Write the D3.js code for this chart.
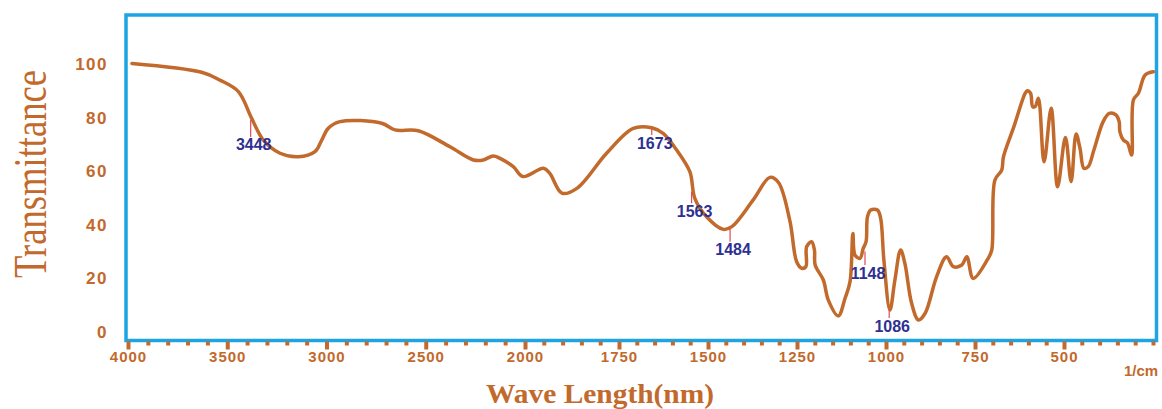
<!DOCTYPE html>
<html>
<head>
<meta charset="utf-8">
<script src="https://cdn.jsdelivr.net/npm/d3@7"></script>
<style>
  body { margin: 0; background: #fff; }
  svg { display: block; }
</style>
</head>
<body>
<div id="chart"></div>
<script>
// spectrum (wavenumber in 1/cm, transmittance %)
const wavenumber = [
  3980, 3629, 3537, 3444, 3377, 3318, 3234, 3142, 3058, 3024, 2991, 2932,
  2722, 2655, 2538, 2378, 2260, 2210, 2160, 2126, 2059, 2010, 1951, 1934,
  1902, 1862, 1783, 1710, 1658, 1626, 1588, 1551, 1537, 1504, 1457, 1433,
  1373, 1326, 1302, 1270, 1251, 1237, 1225, 1223, 1209, 1201, 1199, 1176,
  1162, 1134, 1115, 1101, 1093, 1087, 1073, 1064, 1056, 1052, 1043, 1024,
  1015, 1006, 989, 975, 959, 947, 928, 909, 890, 858, 830, 811,
  787, 773, 755, 713, 703, 694, 675, 670, 640, 609, 603, 594,
  588, 581, 572, 556, 536, 518, 496, 480, 466, 455, 444, 432,
  416, 390, 373, 354, 345, 343, 333, 322, 310, 305, 291, 272, 249
];
const transmittance = [
  100.2, 96.9, 94.0, 89.7, 79.7, 71.6, 66.7, 65.4, 67.3, 71.6, 76.0, 78.5,
  77.9, 75.4, 75.1, 69.1, 64.2, 64.2, 65.7, 64.8, 61.7, 58.0, 61.1, 59.2,
  51.8, 53.6, 66.7, 76.0, 76.2, 74.1, 67.9, 59.8, 49.9, 43.0, 38.3, 39.3,
  49.3, 57.7, 55.8, 41.5, 26.2, 23.8, 24.4, 31.8, 33.7, 30.6, 25.0, 19.4,
  11.9, 6.0, 12.6, 18.8, 36.8, 28.7, 27.5, 31.2, 33.7, 43.0, 45.5, 45.5,
  42.4, 26.9, 8.2, 19.4, 30.6, 25.6, 10.7, 4.5, 7.0, 20.6, 28.1, 24.4,
  25.0, 28.1, 20.0, 27.5, 30.6, 56.7, 60.4, 65.4, 76.9, 89.1, 90.0, 89.1,
  84.1, 84.1, 87.2, 63.5, 83.5, 54.2, 72.6, 56.1, 73.9, 68.5, 61.1, 61.7,
  67.9, 78.5, 81.6, 81.0, 78.5, 74.7, 71.6, 70.6, 66.0, 86.6, 89.1, 95.9, 97.1
];

// peak markers: label, where the marker stands, top and bottom of the red tick
const peakLabels = ["3448", "1673", "1563", "1484", "1148", "1086"];
const peakWave = [3382, 1658, 1546, 1438, 1059, 991];
const peakTop = [79.1, 75.8, 52.4, 38.7, 30.0, 8.2];
const peakBottom = [72.8, 73.5, 48.0, 33.7, 25.0, 5.2];

const majorTicks = [4000, 3500, 3000, 2500, 2000, 1750, 1500, 1250, 1000, 750, 500];
const minorTicks = d3.range(4000, 2000, -100)
  .concat(d3.range(2000, 249, -50))
  .filter(d => !majorTicks.includes(d));
const yTicks = [0, 20, 40, 60, 80, 100];

const brown = "#c2692c";
const blue = "#1da5e3";
const navy = "#2e3092";

const width = 1162, height = 409;

const svg = d3.select("#chart").append("svg")
  .attr("width", width)
  .attr("height", height);

svg.append("rect").attr("width", width).attr("height", height).attr("fill", "#fff");

// spectrometer style axis: expanded below 2000
const x = d3.scaleLinear()
  .domain([4000, 2000, 1750, 500, 250])
  .range([128, 525, 619, 1064, 1153]);

const y = d3.scaleLinear().domain([0, 100]).range([332, 64]);

// frame
svg.append("rect")
  .attr("x", 126).attr("y", 15)
  .attr("width", 1030.5).attr("height", 325.5)
  .attr("fill", "none")
  .attr("stroke", blue)
  .attr("stroke-width", 3.5);

// minor ticks
const minorAxis = svg.append("g")
  .attr("transform", "translate(0,341.5)")
  .call(d3.axisBottom(x).tickValues(minorTicks).tickSize(4).tickFormat(""));
minorAxis.select(".domain").remove();
minorAxis.selectAll(".tick line").attr("stroke", brown).attr("stroke-width", 4);

// major ticks + labels
const xAxis = svg.append("g")
  .attr("transform", "translate(0,341.5)")
  .call(d3.axisBottom(x).tickValues(majorTicks).tickSize(8).tickPadding(1.5).tickFormat(d3.format("d")));
xAxis.select(".domain").remove();
xAxis.selectAll(".tick line").attr("stroke", brown).attr("stroke-width", 4);
xAxis.selectAll(".tick text")
  .attr("fill", brown)
  .style("font-family", "'Liberation Sans', Arial, sans-serif")
  .style("font-weight", "bold")
  .style("font-size", "15px")
  .style("letter-spacing", "1px");

svg.append("text")
  .attr("x", 1141).attr("y", 376)
  .attr("text-anchor", "middle")
  .attr("fill", brown)
  .style("font-family", "'Liberation Sans', Arial, sans-serif")
  .style("font-weight", "bold")
  .style("font-size", "15px")
  .text("1/cm");

// y labels
const yAxis = svg.append("g")
  .attr("transform", "translate(110,0)")
  .call(d3.axisLeft(y).tickValues(yTicks).tickSize(0).tickPadding(2));
yAxis.select(".domain").remove();
yAxis.selectAll(".tick text")
  .attr("fill", brown)
  .style("font-family", "'Liberation Sans', Arial, sans-serif")
  .style("font-weight", "bold")
  .style("font-size", "17px")
  .style("letter-spacing", "1.5px");

// axis titles
svg.append("text")
  .attr("transform", "translate(46,174) rotate(-90)")
  .attr("text-anchor", "middle")
  .attr("fill", brown)
  .attr("textLength", 208)
  .attr("lengthAdjust", "spacingAndGlyphs")
  .style("font-family", "'Liberation Serif', 'Times New Roman', serif")
  .style("font-size", "47px")
  .text("Transmittance");

svg.append("text")
  .attr("x", 600).attr("y", 403)
  .attr("text-anchor", "middle")
  .attr("fill", brown)
  .attr("textLength", 228)
  .attr("lengthAdjust", "spacingAndGlyphs")
  .style("font-family", "'Liberation Serif', 'Times New Roman', serif")
  .style("font-weight", "bold")
  .style("font-size", "28px")
  .text("Wave Length(nm)");

// spectrum
const points = wavenumber.map((w, i) => [w, transmittance[i]]);
const line = d3.line()
  .x(d => x(d[0]))
  .y(d => y(d[1]))
  .curve(d3.curveCatmullRom.alpha(0.5));

svg.append("path")
  .datum(points)
  .attr("d", line)
  .attr("fill", "none")
  .attr("stroke", brown)
  .attr("stroke-width", 3.5)
  .attr("stroke-linejoin", "round")
  .attr("stroke-linecap", "round");

// peak markers
const peaks = peakLabels.map((label, i) => ({
  label, w: peakWave[i], top: peakTop[i], bottom: peakBottom[i]
}));

const pk = svg.append("g").selectAll("g").data(peaks).join("g");

pk.append("line")
  .attr("x1", d => x(d.w)).attr("x2", d => x(d.w))
  .attr("y1", d => y(d.top)).attr("y2", d => y(d.bottom))
  .attr("stroke", "#e04a5a")
  .attr("stroke-width", 1.2);

pk.append("text")
  .attr("x", d => x(d.w) + 3)
  .attr("y", d => y(d.bottom) + 13.5)
  .attr("text-anchor", "middle")
  .attr("fill", navy)
  .style("font-family", "'Liberation Sans', Arial, sans-serif")
  .style("font-weight", "bold")
  .style("font-size", "16px")
  .text(d => d.label);
</script>
</body>
</html>
